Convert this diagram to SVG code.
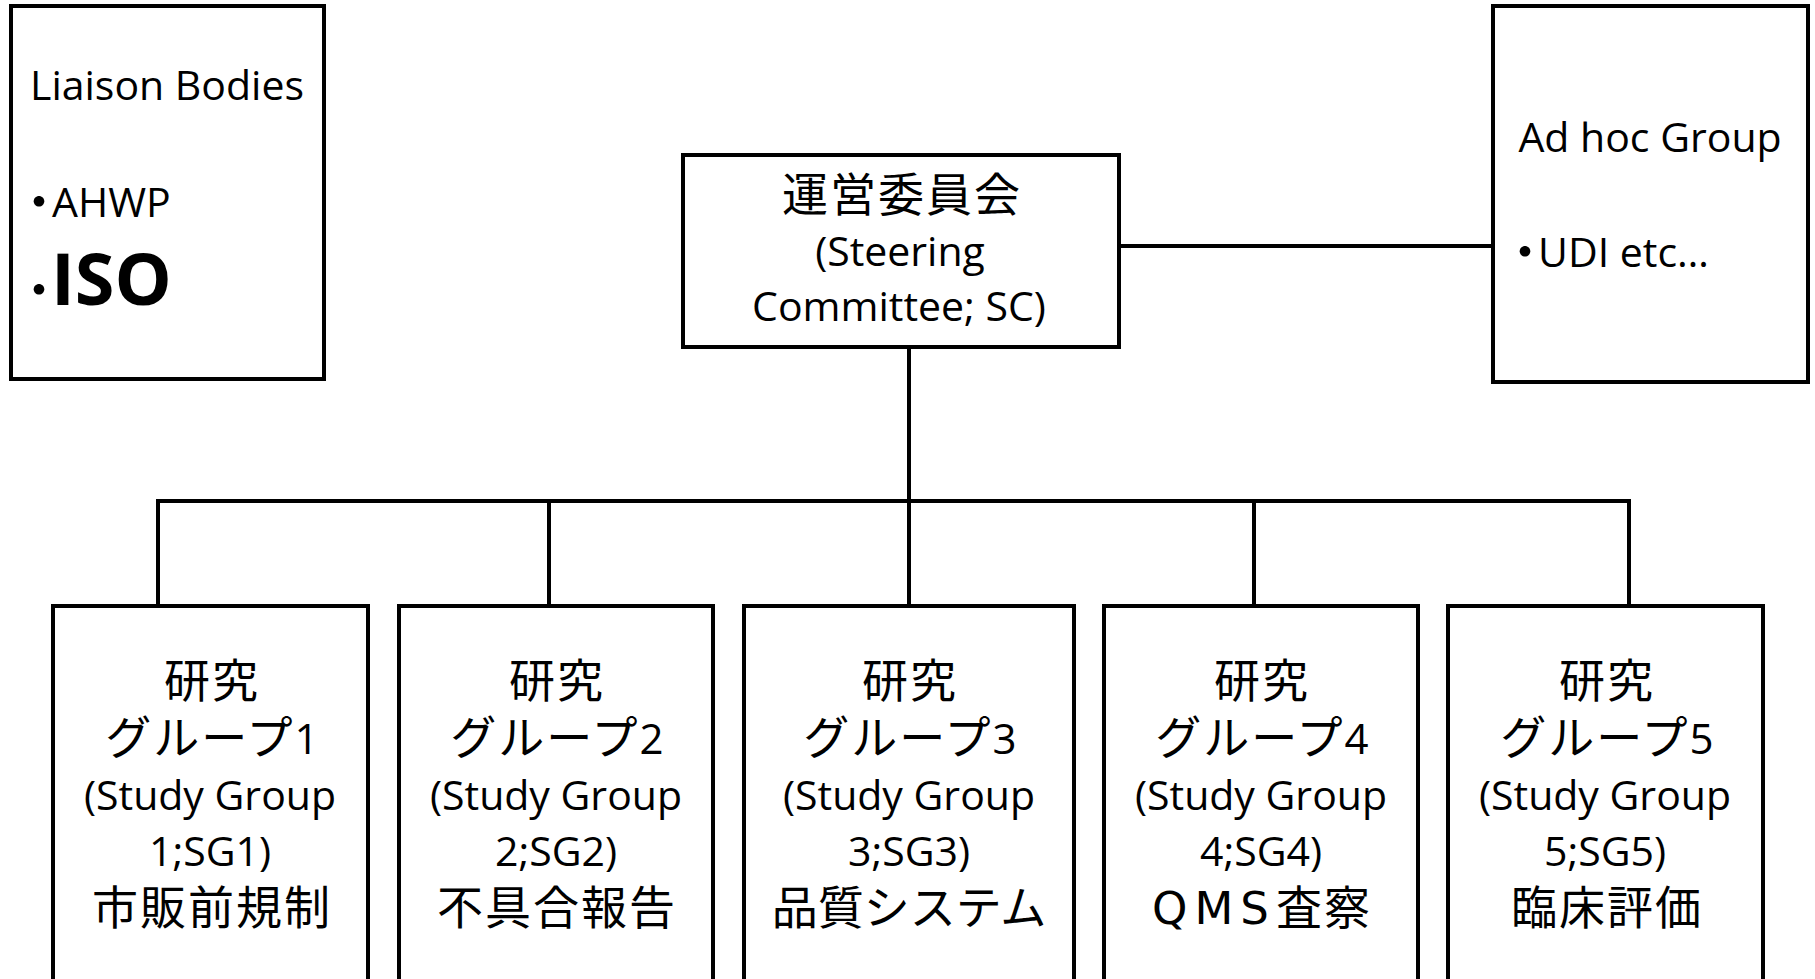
<svg xmlns="http://www.w3.org/2000/svg" width="1815" height="979" viewBox="0 0 1815 979">
<style>
.box{fill:#fff;stroke:#000;stroke-width:4}
.con{fill:none;stroke:#000;stroke-width:4}
.lat{font-family:"Open Sans","Noto Sans CJK JP",sans-serif;font-size:41px;fill:#000}
.cjk{font-family:"Noto Sans CJK JP","Open Sans",sans-serif;font-size:46px;letter-spacing:2px;fill:#000}
.mid{text-anchor:middle}
.bul{font-family:"Noto Sans CJK JP",sans-serif;font-size:50px;letter-spacing:-24px;fill:#000}
.dig{font-family:"Open Sans",sans-serif;font-size:42px;letter-spacing:0}
.big{font-family:"Open Sans",sans-serif;font-size:72px;font-weight:bold;fill:#000}
.nols{letter-spacing:0}
.qms{font-family:"DejaVu Sans",sans-serif;font-size:45px;letter-spacing:7px}
</style>
<rect width="1815" height="979" fill="#fff"/>
<g id="connectors">
<path class="con" d="M1119 246H1493"/>
<path class="con" d="M909 347V501"/>
<path class="con" d="M156 501H1631"/>
<path class="con" d="M158 501V606M549 501V606M909 501V606M1254 501V606M1629 501V606"/>
</g>
<g id="liaison">
<rect class="box" x="11" y="6" width="313" height="373"/>
<text class="lat mid" x="167" y="100">Liaison Bodies</text>
<text class="bul" x="14" y="220">・</text>
<text class="lat" x="52" y="217">AHWP</text>
<text class="bul" x="14" y="308">・</text>
<text class="big" x="51" y="305">ISO</text>
</g>
<g id="adhoc">
<rect class="box" x="1493" y="6" width="315" height="376"/>
<text class="lat mid" x="1650" y="152">Ad hoc Group</text>
<text class="bul" x="1500" y="270">・</text>
<text class="lat" x="1538" y="267">UDI etc…</text>
</g>
<g id="sc">
<rect class="box" x="683" y="155" width="436" height="192"/>
<text class="cjk mid" x="902" y="211">運営委員会</text>
<text class="lat mid" x="900" y="266">(Steering</text>
<text class="lat mid" x="899" y="321">Committee; SC)</text>
</g>
<g id="sg1">
<rect class="box" x="53" y="606" width="315" height="400"/>
<text class="cjk mid" x="212" y="697">研究</text>
<text class="cjk mid" x="212" y="754">グループ<tspan class="dig">1</tspan></text>
<text class="lat mid" x="210" y="810">(Study Group</text>
<text class="lat mid" x="210" y="866">1;SG1)</text>
<text class="cjk mid" x="212" y="924">市販前規制</text>
</g>
<g id="sg2">
<rect class="box" x="399" y="606" width="314" height="400"/>
<text class="cjk mid" x="557" y="697">研究</text>
<text class="cjk mid" x="557" y="754">グループ<tspan class="dig">2</tspan></text>
<text class="lat mid" x="556" y="810">(Study Group</text>
<text class="lat mid" x="556" y="866">2;SG2)</text>
<text class="cjk mid" x="557" y="924">不具合報告</text>
</g>
<g id="sg3">
<rect class="box" x="744" y="606" width="330" height="400"/>
<text class="cjk mid" x="910" y="697">研究</text>
<text class="cjk mid" x="910" y="754">グループ<tspan class="dig">3</tspan></text>
<text class="lat mid" x="909" y="810">(Study Group</text>
<text class="lat mid" x="909" y="866">3;SG3)</text>
<text class="cjk mid nols" x="909" y="924">品質システム</text>
</g>
<g id="sg4">
<rect class="box" x="1104" y="606" width="314" height="400"/>
<text class="cjk mid" x="1262" y="697">研究</text>
<text class="cjk mid" x="1262" y="754">グループ<tspan class="dig">4</tspan></text>
<text class="lat mid" x="1261" y="810">(Study Group</text>
<text class="lat mid" x="1261" y="866">4;SG4)</text>
<text class="cjk mid" x="1262" y="924"><tspan class="qms">QMS</tspan>査察</text>
</g>
<g id="sg5">
<rect class="box" x="1448" y="606" width="315" height="400"/>
<text class="cjk mid" x="1607" y="697">研究</text>
<text class="cjk mid" x="1607" y="754">グループ<tspan class="dig">5</tspan></text>
<text class="lat mid" x="1605" y="810">(Study Group</text>
<text class="lat mid" x="1605" y="866">5;SG5)</text>
<text class="cjk mid" x="1607" y="924">臨床評価</text>
</g>
</svg>
